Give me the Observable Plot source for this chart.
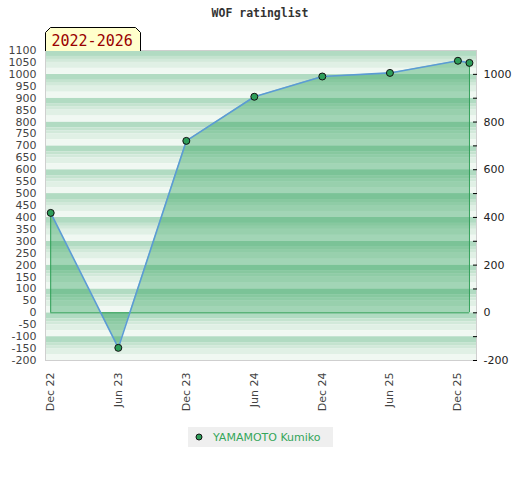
<!DOCTYPE html>
<html>
<head>
<meta charset="utf-8">
<script src="https://cdn.jsdelivr.net/npm/d3@7"></script>
<script src="https://cdn.jsdelivr.net/npm/@observablehq/plot@0.6"></script>
<style>
  body { margin: 0; background: #fff; font-family: "DejaVu Sans", sans-serif; }
  #wrap { position: relative; width: 520px; height: 480px; }
  #chart { position: absolute; left: 0; top: 0; }
  #title { position: absolute; top: 6px; left: 0; width: 520px; text-align: center;
           font: bold 11.5px "DejaVu Sans Mono", monospace; color: #333; }
  #legend { position: absolute; left: 188px; top: 427px; width: 145px; height: 20px;
            background: #efefef; display: flex; align-items: center;
            font-size: 11px; color: #34a65a; }
  #legend svg { margin-left: 7px; margin-right: 10px; }
</style>
</head>
<body>
<div id="wrap">
  <div id="chart"></div>
  <div id="title"></div>
  <div id="legend"></div>
</div>
<script>
// ---- data ----
const titleText = "WOF ratinglist";
const periodText = "2022-2026";
const player = "YAMAMOTO Kumiko";
const dates = ["2022-12-01", "2023-06-01", "2023-12-01", "2024-06-01", "2024-12-01", "2025-06-01", "2025-12-01", "2026-01-01"];
const ratings = [419, -147, 721, 906, 991, 1006, 1057, 1048];
const xTickDates = ["2022-12-01", "2023-06-01", "2023-12-01", "2024-06-01", "2024-12-01", "2025-06-01", "2025-12-01"];
const yTicksLeft = [-200, -150, -100, -50, 0, 50, 100, 150, 200, 250, 300, 350, 400, 450, 500, 550, 600, 650, 700, 750, 800, 850, 900, 950, 1000, 1050, 1100];
const yTicksRight = [-200, -100, 0, 100, 200, 300, 400, 500, 600, 700, 800, 900, 1000];
const yLabelsRight = [-200, 0, 200, 400, 600, 800, 1000];

// ---- build ----
const data = dates.map((d, i) => ({date: new Date(d), rating: ratings[i]}));
const first = data[0], last = data[data.length - 1];

// background stripe pattern (each 100-point band: dark at top, fading to white)
const stripeShades = [
  {from: 100, to: 75, c: "#b1dbc2"},
  {from: 75, to: 62.5, c: "#c4e3cf"},
  {from: 62.5, to: 50, c: "#d2e9da"},
  {from: 50, to: 25, c: "#e0f0e5"},
  {from: 25, to: 0, c: "#f0f8f2"}
];
const stripes = [];
for (let k = -200; k < 1100; k += 100) {
  for (const s of stripeShades) stripes.push({y1: k + s.to, y2: k + s.from, c: s.c});
}

const plain = d => String(d);
const green = "#2e9e55";
const chart = Plot.plot({
  width: 520,
  height: 420,
  marginTop: 50,
  marginBottom: 60,
  marginLeft: 45,
  marginRight: 44,
  x: {type: "utc", domain: [new Date("2022-11-17"), new Date("2026-01-20")], label: null},
  y: {domain: [-200, 1100], label: null},
  color: {type: "identity"},
  style: {fontFamily: "DejaVu Sans, sans-serif", fontSize: "11px", color: "#444", background: "transparent"},
  marks: [
    Plot.rect(stripes, {y1: "y1", y2: "y2", fill: "c"}),
    Plot.frame({stroke: "#cfcfcf"}),
    Plot.areaY(data, {x: "date", y: "rating", fill: "#1f9a50", fillOpacity: 0.37}),
    Plot.ruleY([{y: 0, x1: first.date, x2: last.date}], {y: "y", x1: "x1", x2: "x2", stroke: green}),
    Plot.ruleX([first, last], {x: "date", y1: 0, y2: "rating", stroke: green}),
    Plot.line(data, {x: "date", y: "rating", stroke: "#5b9bd5", strokeWidth: 1.6}),
    Plot.dot(data, {x: "date", y: "rating", r: 3.5, fill: "#2e9e5a", stroke: "#111", strokeWidth: 1}),
    Plot.axisY(yTicksLeft, {anchor: "left", tickSize: 0, tickPadding: 9, tickFormat: plain}),
    Plot.axisY(yTicksRight, {anchor: "right", tickSize: -4, tickFormat: () => "", stroke: "#000"}),
    Plot.axisY(yLabelsRight, {anchor: "right", tickSize: 0, tickPadding: 7, fill: "#222", tickFormat: plain}),
    Plot.axisX(xTickDates.map(d => new Date(d)), {anchor: "bottom", tickSize: 0, tickPadding: 12, tickRotate: -90, tickFormat: d3.utcFormat("%b %y")})
  ]
});
document.getElementById("chart").appendChild(chart);

// period badge above the plot frame
const svg = d3.select(chart);
const badge = svg.append("g");
badge.append("path")
  .attr("d", "M45.5,51 V32.5 L50.5,27.5 H135.5 L140.5,32.5 V51")
  .attr("fill", "#ffffcc").attr("stroke", "#000").attr("stroke-width", 1);
badge.append("text")
  .attr("x", 51.5).attr("y", 45.5)
  .attr("text-anchor", "start")
  .attr("fill", "#990000")
  .style("font", "15px 'DejaVu Sans Mono', monospace")
  .text(periodText);

document.getElementById("title").textContent = titleText;

// legend
const leg = d3.select("#legend");
const ls = leg.append("svg").attr("width", 8).attr("height", 8);
ls.append("circle").attr("cx", 4).attr("cy", 4).attr("r", 3).attr("fill", "#2e9e5a").attr("stroke", "#111");
leg.append("span").text(player);
</script>
</body>
</html>
